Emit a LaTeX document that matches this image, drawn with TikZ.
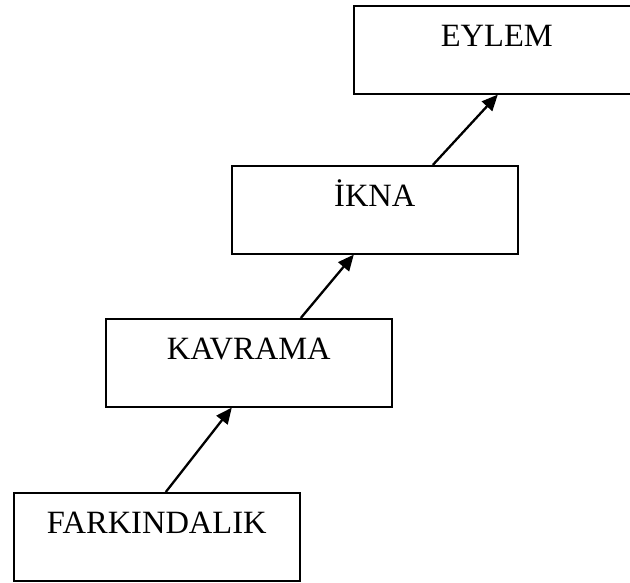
\documentclass[tikz,border=0pt]{standalone}
\usepackage{fontspec}
\setmainfont{Liberation Serif}
\usetikzlibrary{arrows.meta}
\begin{document}
\begin{tikzpicture}[x=1pt, y=-1pt,
  stage/.style={draw, line width=1.6pt, anchor=north west,
    minimum width=286pt, inner xsep=0pt, inner ysep=0pt,
    text height=41pt, text depth=47pt,
    font=\fontsize{32.5}{38}\selectfont},
  rise/.style={line width=2.3pt, -{Triangle[length=16pt,width=14pt]}}]
  \clip (0,0) rectangle (630,583);
  \useasboundingbox (0,0) rectangle (630,583);
  \node[stage] (eylem) at (353,5) {EYLEM};
  \node[stage] (ikna) at (231,165) {İKNA};
  \node[stage] (kavrama) at (105,318) {KAVRAMA};
  \node[stage] (farkindalik) at (13,492) {FARKINDALIK};
  \draw[rise] ([xshift=9pt]farkindalik.north) -- ([xshift=-17pt]kavrama.south);
  \draw[rise] ([xshift=52pt]kavrama.north) -- ([xshift=-21pt]ikna.south);
  \draw[rise] ([xshift=58pt]ikna.north) -- ([xshift=1pt]eylem.south);
\end{tikzpicture}
\end{document}
